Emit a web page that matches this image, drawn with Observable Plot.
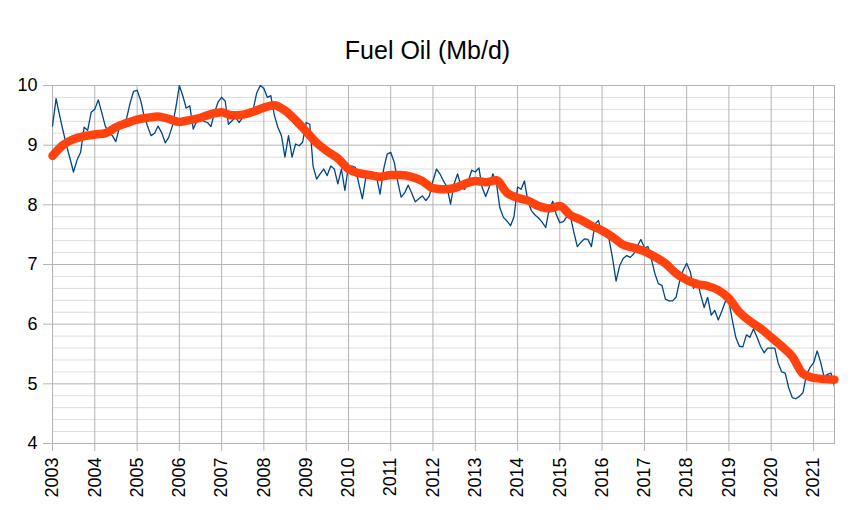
<!DOCTYPE html>
<html><head><meta charset="utf-8">
<script src="https://cdn.jsdelivr.net/npm/d3@7"></script>
<script src="https://cdn.jsdelivr.net/npm/@observablehq/plot@0.6"></script>
<style>body{margin:0;background:#fff;} svg{display:block;}</style>
</head><body><div id="chart"></div>
<script>
const title = "Fuel Oil (Mb/d)";
const startYear = 2003;
const yearTicks = [2003,2004,2005,2006,2007,2008,2009,2010,2011,2012,2013,2014,2015,2016,2017,2018,2019,2020,2021];
const yTicks = [4,5,6,7,8,9,10];
const minorYTicks = [4.2,4.4,4.6,4.8,5.2,5.4,5.6,5.8,6.2,6.4,6.6,6.8,7.2,7.4,7.6,7.8,8.2,8.4,8.6,8.8,9.2,9.4,9.6,9.8];

// monthly values, Jan 2003 .. Jul 2021
const monthly = [
  9.32, 9.78, 9.52, 9.25, 9.00, 8.78, 8.55, 8.75, 8.88, 9.30, 9.25, 9.55,
  9.60, 9.76, 9.55, 9.32, 9.21, 9.16, 9.06, 9.30, 9.38, 9.44, 9.70, 9.90,
  9.92, 9.75, 9.50, 9.32, 9.16, 9.20, 9.32, 9.21, 9.04, 9.13, 9.32, 9.62,
  10.0, 9.82, 9.62, 9.66, 9.27, 9.41, 9.44, 9.40, 9.38, 9.31, 9.55, 9.72,
  9.80, 9.74, 9.35, 9.41, 9.47, 9.38, 9.46, 9.55, 9.55, 9.60, 9.88, 10.0,
  9.95, 9.80, 9.83, 9.50, 9.30, 9.16, 8.80, 9.16, 8.80, 9.02, 8.99, 9.05,
  9.38, 9.35, 8.65, 8.43, 8.52, 8.60, 8.49, 8.65, 8.60, 8.35, 8.60, 8.24,
  8.65, 8.65, 8.63, 8.35, 8.10, 8.47, 8.52, 8.52, 8.46, 8.18, 8.60, 8.85,
  8.88, 8.71, 8.40, 8.13, 8.20, 8.33, 8.20, 8.05, 8.10, 8.15, 8.07, 8.15,
  8.40, 8.60, 8.52, 8.40, 8.30, 8.01, 8.35, 8.52, 8.29, 8.26, 8.40, 8.58,
  8.55, 8.62, 8.29, 8.14, 8.30, 8.52, 8.38, 7.95, 7.79, 7.73, 7.65, 7.80,
  8.30, 8.26, 8.40, 8.05, 7.90, 7.83, 7.78, 7.71, 7.62, 7.93, 8.06, 7.84,
  7.70, 7.72, 7.80, 7.82, 7.55, 7.30, 7.37, 7.43, 7.42, 7.30, 7.68, 7.74,
  7.50, 7.50, 7.43, 7.10, 6.72, 6.98, 7.10, 7.15, 7.12, 7.18, 7.31, 7.42,
  7.28, 7.30, 7.10, 6.85, 6.68, 6.65, 6.42, 6.39, 6.39, 6.45, 6.72, 6.90,
  7.02, 6.88, 6.60, 6.74, 6.50, 6.28, 6.45, 6.15, 6.23, 6.07, 6.22, 6.38,
  6.38, 6.05, 5.78, 5.63, 5.62, 5.82, 5.78, 5.92, 5.78, 5.63, 5.52, 5.60,
  5.60, 5.60, 5.35, 5.20, 5.18, 4.93, 4.77, 4.75, 4.79, 4.85, 5.15, 5.27,
  5.35, 5.55, 5.38, 5.12, 5.16, 5.18, 4.96
];

// moving average, read every 3 months from Jan 2003
const avgStep = 3;
const average = [
  8.82, 9.00, 9.10, 9.15,
  9.18, 9.20, 9.30, 9.37,
  9.43, 9.46, 9.48, 9.44,
  9.39, 9.42, 9.46, 9.52,
  9.55, 9.50, 9.51, 9.56,
  9.63, 9.67, 9.58, 9.42,
  9.23, 9.04, 8.90, 8.78,
  8.60, 8.53, 8.50, 8.47,
  8.50, 8.50, 8.47, 8.40,
  8.28, 8.26, 8.28, 8.35,
  8.40, 8.38, 8.41, 8.20,
  8.12, 8.07, 7.98, 7.94,
  7.98, 7.83, 7.75, 7.65,
  7.57, 7.46, 7.33, 7.28,
  7.22, 7.13, 7.02, 6.85,
  6.74, 6.67, 6.64, 6.57,
  6.43, 6.20, 6.05, 5.93,
  5.78, 5.63, 5.46, 5.17,
  5.10, 5.08, 5.07
];

const monthlyData = monthly.map((v, i) => ({date: new Date(startYear, i, 1), value: v}));
const averageData = average.map((v, i) => ({date: new Date(startYear, i * avgStep, 1), value: v}));
const yearDates = yearTicks.map(y => new Date(y, 0, 1));

const chart = Plot.plot({
  width: 852,
  height: 510,
  marginLeft: 52,
  marginRight: 18,
  marginTop: 85,
  marginBottom: 67,
  style: {fontFamily: "'Liberation Sans', Arial, sans-serif", background: "#fff", color: "#000"},
  x: {type: "time", domain: [new Date(startYear, 0, 1), monthlyData[monthlyData.length - 1].date]},
  y: {domain: [4, 10]},
  marks: [
    Plot.gridY({ticks: minorYTicks, stroke: "#dddddd", strokeOpacity: 1}),
    Plot.gridY({ticks: yTicks, stroke: "#b3b3b3", strokeOpacity: 1}),
    Plot.gridX({ticks: yearDates, stroke: "#b3b3b3", strokeOpacity: 1}),
    Plot.frame({stroke: "#b3b3b3"}),
    Plot.axisY({ticks: yTicks, tickFormat: d3.format("d"), tickSize: 9, tickPadding: 6, stroke: "#b3b3b3", strokeOpacity: 1, fill: "#000", fontSize: 18, label: null}),
    Plot.axisX({ticks: yearDates, tickFormat: d3.timeFormat("%Y"), tickRotate: -90, tickSize: 8, tickPadding: 6, stroke: "#b3b3b3", strokeOpacity: 1, fill: "#000", fontSize: 18, label: null}),
    Plot.line(monthlyData, {x: "date", y: "value", stroke: "#004586", strokeWidth: 1.3, clip: true}),
    Plot.line(averageData, {x: "date", y: "value", stroke: "#ff420e", strokeWidth: 8.5, curve: "monotone-x", strokeLinejoin: "round"}),
    Plot.text([title], {text: d => d, frameAnchor: "top", dx: -16, dy: -44, fontSize: 25, fill: "#000"})
  ]
});
document.getElementById("chart").appendChild(chart);
</script>
</body></html>
